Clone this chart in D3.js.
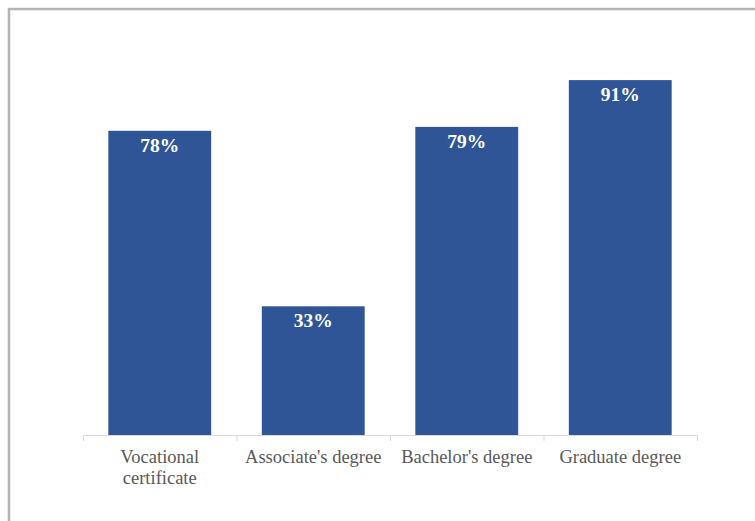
<!DOCTYPE html>
<html>
<head>
<meta charset="utf-8">
<script src="https://cdnjs.cloudflare.com/ajax/libs/d3/7.8.5/d3.min.js"></script>
<style>
  body { margin: 0; background: #fff; }
  svg { display: block; }
  text { font-family: "Liberation Serif", "Times New Roman", "DejaVu Serif", serif; }
</style>
</head>
<body>
<svg id="chart" width="755" height="521"></svg>
<script>
// chart data
const categories = ["Vocational certificate", "Associate's degree", "Bachelor's degree", "Graduate degree"];
const values = [78, 33, 79, 91];
const categoryLines = [["Vocational", "certificate"], ["Associate's degree"], ["Bachelor's degree"], ["Graduate degree"]];

const svg = d3.select("#chart");
const width = 755, height = 521;

// outer frame, runs off the right and bottom edges like the original
svg.append("rect")
    .attr("x", 9).attr("y", 9)
    .attr("width", width).attr("height", height)
    .attr("fill", "none")
    .attr("stroke", "#b3b3b3")
    .attr("stroke-width", 2.5);

const xScale = d3.scaleBand().domain(categories).range([83, 697]).paddingInner(0.33).paddingOuter(0.165);
const yScale = d3.scaleLinear().domain([0, 100]).range([435, 45]);

// bars
svg.selectAll("rect.bar").data(values).enter().append("rect")
    .attr("class", "bar")
    .attr("x", (d, i) => xScale(categories[i]))
    .attr("y", d => yScale(d))
    .attr("width", xScale.bandwidth())
    .attr("height", d => yScale(0) - yScale(d))
    .attr("fill", "#2f5597");

// value labels inside the top of each bar
svg.selectAll("text.val").data(values).enter().append("text")
    .attr("class", "val")
    .attr("x", (d, i) => xScale(categories[i]) + xScale.bandwidth() / 2)
    .attr("y", d => yScale(d) + 21)
    .attr("text-anchor", "middle")
    .attr("fill", "#fff")
    .style("font-weight", "bold")
    .style("font-size", "19.5px")
    .text(d => d + "%");

// axis line and tick marks at band edges
const axis = svg.append("g");
axis.append("line")
    .attr("x1", 83).attr("x2", 697)
    .attr("y1", yScale(0) + 0.5).attr("y2", yScale(0) + 0.5)
    .attr("stroke", "#d9d9d9");
const edges = d3.range(categories.length + 1).map(i => 83 + i * (614 / categories.length));
axis.selectAll("line.tick").data(edges).enter().append("line")
    .attr("class", "tick")
    .attr("x1", d => d + 0.5).attr("x2", d => d + 0.5)
    .attr("y1", yScale(0)).attr("y2", yScale(0) + 6)
    .attr("stroke", "#d9d9d9");

// category labels
const labels = svg.selectAll("text.cat").data(categoryLines).enter().append("text")
    .attr("class", "cat")
    .attr("x", (d, i) => xScale(categories[i]) + xScale.bandwidth() / 2)
    .attr("y", 463)
    .attr("text-anchor", "middle")
    .attr("fill", "#595959")
    .style("font-size", "18.5px");
labels.each(function(lines) {
    const t = d3.select(this);
    lines.forEach((ln, j) => {
        t.append("tspan")
            .attr("x", t.attr("x"))
            .attr("dy", j === 0 ? 0 : 21)
            .text(ln);
    });
});
</script>
</body>
</html>
